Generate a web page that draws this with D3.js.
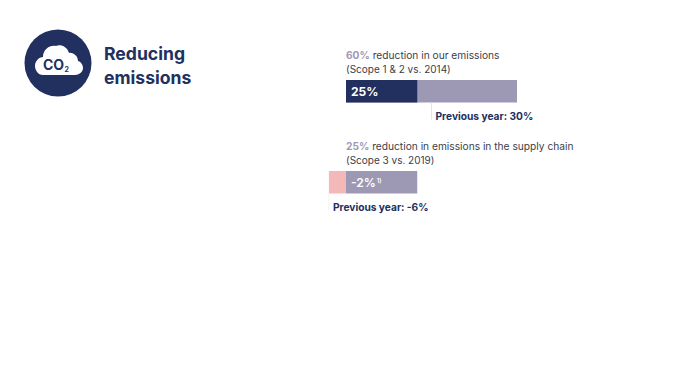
<!DOCTYPE html>
<html>
<head>
<meta charset="utf-8">
<script src="https://cdn.jsdelivr.net/npm/d3@7"></script>
<style>
  html, body { margin: 0; background: #fff; }
  text { font-family: Inter, "Noto Sans", sans-serif; }
</style>
</head>
<body>
<div id="chart"></div>
<script>
// values (percent)
const targets = [60, 25];
const actuals = [25, -6];
const previous = [30, -6];
const actualLabels = ["25%", "-2%"];
const previousLabels = ["Previous year: 30%", "Previous year: -6%"];
const targetLabels = ["60%", "25%"];
const line1 = [" reduction in our emissions", " reduction in emissions in the supply chain"];
const line2 = ["(Scope 1 & 2 vs. 2014)", "(Scope 3 vs. 2019)"];

const navy = "#22305f", lilac = "#9d99b5", pink = "#f4b8b8";

const width = 685, height = 388;
const svg = d3.select("#chart").append("svg")
    .attr("width", width)
    .attr("height", height)
    .style("display", "block");

// same scale for both bars, 0 sits at x=346
const x = d3.scaleLinear().domain([0, 60]).range([346, 517]);

// row offsets
const barY = [80, 171];
const barH = 22.5;

// icon
const icon = svg.append("g").attr("transform", "translate(58,63)");
icon.append("circle").attr("r", 33.5).attr("fill", navy);
icon.append("path")
    .attr("fill", "#fff")
    .attr("d", "M-15,12 C-20,12 -23,7 -23,3 C-23,-2 -19,-6 -15,-6 C-15,-13 -9,-18 -2,-17 C2,-19 9,-17 11,-10 C15,-11 20,-7 20,-2 C24,-1 25,3 25,5 C25,9 21,12 17,12 Z");
icon.append("text")
    .attr("x", -15).attr("y", 7)
    .attr("font-size", 14).attr("font-weight", 700)
    .attr("fill", navy)
    .text("CO");
icon.append("text")
    .attr("x", 6.5).attr("y", 9)
    .attr("font-size", 7).attr("font-weight", 700)
    .attr("fill", navy)
    .text("2");

// title
svg.selectAll("text.title")
    .data(["Reducing", "emissions"])
    .enter().append("text")
    .attr("class", "title")
    .attr("x", 104)
    .attr("y", (d, i) => 60 + i * 24)
    .attr("font-size", 17.6)
    .attr("font-weight", 700)
    .attr("fill", navy)
    .text(d => d);

targets.forEach(function(t, i) {
  const y = barY[i];

  // captions above the bar
  const cap = svg.append("text")
      .attr("x", x(0)).attr("y", y - 21)
      .attr("font-size", 10.2).attr("fill", "#3d3d4a");
  cap.append("tspan").attr("font-weight", 700).attr("fill", lilac).text(targetLabels[i]);
  cap.append("tspan").text(line1[i]);
  svg.append("text")
      .attr("x", x(0)).attr("y", y - 7)
      .attr("font-size", 10).attr("fill", "#3d3d4a")
      .text(line2[i]);

  // target bar
  svg.append("rect")
      .attr("x", x(0)).attr("y", y)
      .attr("width", x(t) - x(0)).attr("height", barH)
      .attr("fill", lilac);

  // current value bar
  const a = actuals[i];
  svg.append("rect")
      .attr("x", x(Math.min(0, a))).attr("y", y)
      .attr("width", Math.abs(x(a) - x(0))).attr("height", barH)
      .attr("fill", a < 0 ? pink : navy);

  // previous year marker
  svg.append("line")
      .attr("x1", x(previous[i])).attr("x2", x(previous[i]))
      .attr("y1", y + barH).attr("y2", y + barH + 17)
      .attr("stroke", a < 0 ? "#f1f1f4" : "#e4e4ea").attr("stroke-width", 1);

  const val = svg.append("text")
      .attr("x", x(0) + 5).attr("y", y + 16)
      .attr("font-size", 12).attr("font-weight", a < 0 ? 600 : 700)
      .attr("fill", "#fff")
      .text(actualLabels[i]);
  if (a < 0) {
    val.append("tspan")
        .attr("font-size", 6).attr("dy", -4).attr("dx", 1).text("1)");
  }

  svg.append("text")
      .attr("x", x(previous[i]) + 4).attr("y", y + barH + 17)
      .attr("font-size", 10.2).attr("font-weight", 700)
      .attr("fill", navy)
      .text(previousLabels[i]);
});
</script>
</body>
</html>
